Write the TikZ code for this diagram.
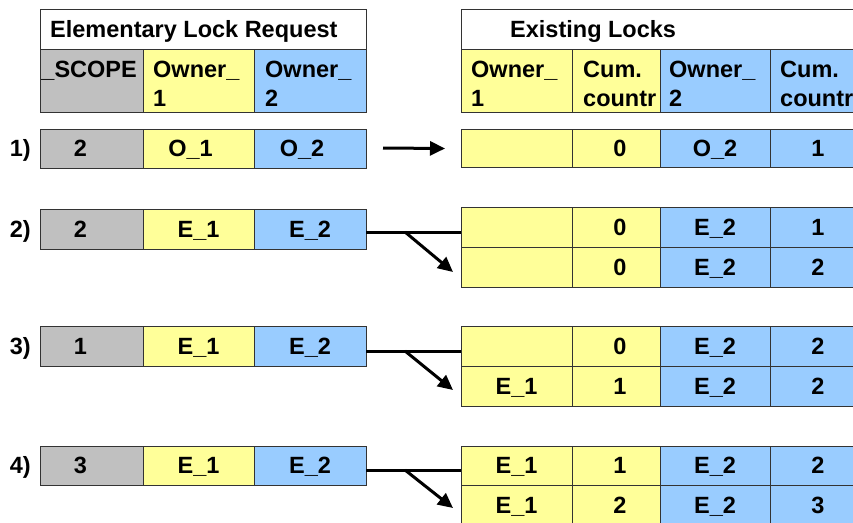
\documentclass[tikz,border=0pt]{standalone}
\usepackage{fontspec}
\setmainfont{Liberation Sans}
\usetikzlibrary{arrows.meta}

\definecolor{scopegray}{HTML}{C0C0C0}
\definecolor{ownyellow}{HTML}{FFFF99}
\definecolor{ownblue}{HTML}{99CCFF}
\definecolor{rulegray}{HTML}{333333}

\tikzset{
  every node/.style={font=\fontsize{23.5}{28}\selectfont\bfseries},
  cell/.style={draw=rulegray, line width=1pt, inner sep=0pt, outer sep=0pt,
    anchor=north west, text height=16.8pt, text depth=0pt},
  hdr/.style={inner sep=0pt, anchor=base west},
  rowlabel/.style={inner sep=0pt, anchor=east, text height=16.8pt, text depth=0pt},
  link/.style={line width=3pt},
  linkarrow/.style={line width=3pt, -{Triangle[length=15pt,width=14pt]}},
}

% \cellbox{name}{x}{y}{width}{height}{fill}{text}
\newcommand\cellbox[7]{\node[cell, fill=#6, minimum width=#4pt, minimum height=#5pt] (#1) at (#2,#3) {#7};}
% one row of the lock request table
\newcommand\reqrow[7]{%
  \cellbox{#1a}{40}{#2}{103}{#3}{scopegray}{#4\hspace*{22pt}}
  \cellbox{#1b}{143}{#2}{111}{#3}{ownyellow}{#5}
  \cellbox{#1c}{254}{#2}{112}{#3}{ownblue}{#6}}
% one row of the existing locks table
\newcommand\lockrow[7]{%
  \cellbox{#1a}{461}{#2}{111}{#3}{ownyellow}{#4}
  \cellbox{#1b}{572}{#2}{88}{#3}{ownyellow}{\hspace*{8pt}#5}
  \cellbox{#1c}{660}{#2}{110}{#3}{ownblue}{#6}
  \cellbox{#1d}{770}{#2}{96}{#3}{ownblue}{#7}}
% two-line column heading
\newcommand\colhead[4]{%
  \node[hdr] (#1-1) at (#2,77) {#3};
  \node[hdr] (#1-2) at (#2,106) {#4};}

\begin{document}
\begin{tikzpicture}[x=1pt,y=-1pt]
\path[use as bounding box, clip] (0,0) rectangle (853,522);

% ---- Elementary lock request ----
\cellbox{LT}{40}{9}{326}{40}{white}{}
\node[hdr] (LTtext) at (50,37) {Elementary Lock Request};
\cellbox{LHa}{40}{49}{103}{63}{scopegray}{}
\cellbox{LHb}{143}{49}{111}{63}{ownyellow}{}
\cellbox{LHc}{254}{49}{112}{63}{ownblue}{}
\node[inner sep=0pt, anchor=base east] (LHatext) at (137,77) {\_SCOPE};
\colhead{LHbtext}{153}{Owner\_}{1}
\colhead{LHctext}{265}{Owner\_}{2}

\cellbox{L1a}{40}{129}{103}{39}{scopegray}{2\hspace*{22pt}}
\cellbox{L1b}{143}{129}{111}{39}{ownyellow}{O\_1\hspace*{16pt}}
\cellbox{L1c}{254}{129}{112}{39}{ownblue}{O\_2\hspace*{16pt}}
\reqrow{L2}{209}{40}{2}{E\_1}{E\_2}{}
\reqrow{L3}{326}{40}{1}{E\_1}{E\_2}{}
\reqrow{L4}{446}{39}{3}{E\_1}{E\_2}{}

\node[rowlabel] (n1) at (31,148.5) {1)};
\node[rowlabel] (n2) at (31,229) {2)};
\node[rowlabel] (n3) at (31,346) {3)};
\node[rowlabel] (n4) at (31,465.5) {4)};

% ---- Existing locks ----
\cellbox{RT}{461}{9}{405}{40}{white}{}
\node[hdr] (RTtext) at (510,37) {Existing Locks};
\cellbox{RHa}{461}{49}{111}{63}{ownyellow}{}
\cellbox{RHb}{572}{49}{88}{63}{ownyellow}{}
\cellbox{RHc}{660}{49}{110}{63}{ownblue}{}
\cellbox{RHd}{770}{49}{96}{63}{ownblue}{}
\colhead{RHatext}{471}{Owner\_}{1}
\colhead{RHbtext}{583}{Cum.}{countr}
\colhead{RHctext}{669}{Owner\_}{2}
\colhead{RHdtext}{780}{Cum.}{countr}

\lockrow{R1}{129}{38}{}{0}{O\_2}{1}
\lockrow{R2}{207}{40}{}{0}{E\_2}{1}
\lockrow{R2x}{247}{40}{}{0}{E\_2}{2}
\lockrow{R3}{326}{40}{}{0}{E\_2}{2}
\lockrow{R3x}{366}{40}{E\_1}{1}{E\_2}{2}
\lockrow{R4}{446}{39}{E\_1}{1}{E\_2}{2}
\lockrow{R4x}{485}{40}{E\_1}{2}{E\_2}{3}

% ---- connectors ----
\draw[linkarrow] ([xshift=17pt,yshift=0.5pt]L1c.east) -- ([xshift=-16pt]R1a.west |- L1c.east);

\coordinate (j2) at (405,232);
\coordinate (t2) at (453,272);
\draw[link] (L2c.east |- j2) -- (R2a.west |- j2);
\draw[linkarrow] (j2) -- (t2);

\coordinate (j3) at (405,351);
\coordinate (t3) at (453,390);
\draw[link] (L3c.east |- j3) -- (R3a.west |- j3);
\draw[linkarrow] (j3) -- (t3);

\coordinate (j4) at (405,470);
\coordinate (t4) at (453,508);
\draw[link] (L4c.east |- j4) -- (R4a.west |- j4);
\draw[linkarrow] (j4) -- (t4);
\end{tikzpicture}
\end{document}
